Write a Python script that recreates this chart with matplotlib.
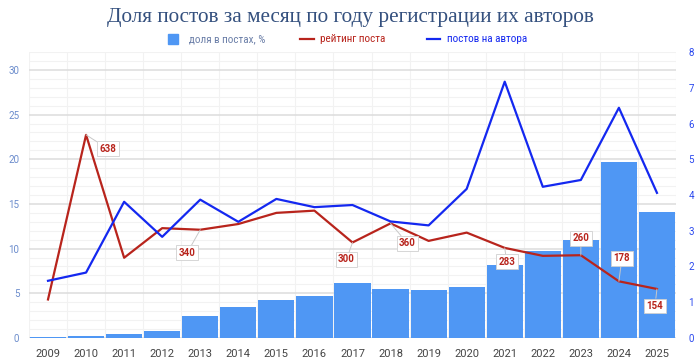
import numpy as np
import matplotlib
matplotlib.use('Agg')
import matplotlib.pyplot as plt
from matplotlib import font_manager
from matplotlib.patches import Rectangle
from matplotlib.lines import Line2D

# data
years = ['2009', '2010', '2011', '2012', '2013', '2014', '2015', '2016', '2017',
         '2018', '2019', '2020', '2021', '2022', '2023', '2024', '2025']
share = [0.15, 0.2, 0.4, 0.8, 2.5, 3.5, 4.2, 4.7, 6.2, 5.45, 5.35, 5.7, 8.2, 9.7, 11.0, 19.7, 14.05]
rating = [121, 638, 252, 345, 340, 358, 393, 400, 300, 360, 305, 331, 283, 258, 260, 178, 154]
posts_per_author = [1.60, 1.83, 3.81, 2.83, 3.87, 3.25, 3.89, 3.66, 3.72, 3.26, 3.15, 4.17,
                    7.17, 4.23, 4.42, 6.44, 4.06]
# which rating points get a callout, and where the box sits (pixel offset)
label_years = ['2010', '2013', '2017', '2018', '2021', '2023', '2024', '2025']
label_offsets = [(22, -14), (-13, -23), (-6, -17), (17, -20), (2, -14), (0, 17), (3, 23), (-2, -17)]
legend_labels = ['доля в постах, %', 'рейтинг поста', 'постов на автора']

BAR = '#4f97f4'
RED = '#b8241c'
BLUE = '#1428f0'
rating_scale = 28.07  # rating is drawn against the left axis

plt.rcParams['font.family'] = ['Roboto', 'DejaVu Sans']

# narrow font for the legend if there is one
narrow = 'Roboto'
for cand in ['Liberation Sans Narrow', 'Roboto Condensed', 'DejaVu Sans Condensed']:
    try:
        font_manager.findfont(cand, fallback_to_default=False)
        narrow = cand
        break
    except Exception:
        pass

fig = plt.figure(figsize=(7, 3.63), dpi=100)
ax = fig.add_axes([0.0414, 0.0689, 0.9243, 0.7878])
x = np.arange(len(years))

ax.bar(x, share, width=0.95, color=BAR, linewidth=0, zorder=2)
r_scaled = np.array(rating) / rating_scale
ax.plot(x, r_scaled, color=RED, lw=1.6, zorder=4)

ax.set_xlim(-0.5, len(years) - 0.5)
ax.set_ylim(0, 32)
ax.set_yticks(np.arange(0, 31, 5))
ax.set_yticks(np.arange(0, 33, 1), minor=True)
ax.grid(axis='y', which='major', color='#dcdcdc', lw=1.1, zorder=0)
ax.grid(axis='y', which='minor', color='#f2f2f2', lw=0.8, zorder=0)
ax.set_xticks(x)
ax.set_xticklabels(years)
ax.set_xticks(np.arange(-0.5, len(years), 1), minor=True)
ax.grid(axis='x', which='minor', color='#f2f2f2', lw=0.8, zorder=0)
ax.tick_params(axis='x', which='both', length=0, labelsize=8, colors='#444444', pad=8)
ax.tick_params(axis='y', which='both', length=0, labelsize=7, labelcolor='#6b8ccc', pad=7)
for s in ax.spines.values():
    s.set_visible(False)
ax.set_axisbelow(True)

ax2 = ax.twinx()
ax2.plot(x, posts_per_author, color=BLUE, lw=1.6, zorder=5)
ax2.set_ylim(0, 8)
ax2.set_yticks(np.arange(0, 9, 1))
ax2.tick_params(axis='y', length=0, labelsize=7, labelcolor='#2a48ee', pad=9)
for s in ax2.spines.values():
    s.set_visible(False)

# callouts on the rating line
for yr, off in zip(label_years, label_offsets):
    i = years.index(yr)
    ax2.annotate(str(rating[i]), xy=(x[i], r_scaled[i] * 8 / 32), xycoords='data',
                 xytext=off, textcoords='offset pixels', ha='center', va='center',
                 fontsize=7, fontweight='bold', color=RED, zorder=10,
                 bbox=dict(boxstyle='square,pad=0.25', fc='white', ec='#d0d0d0', lw=0.6),
                 arrowprops=dict(arrowstyle='-', color='#c8c8c8', lw=0.7,
                                 shrinkA=0, shrinkB=0))

fig.text(0.5, 0.953, 'Доля постов за месяц по году регистрации их авторов',
         ha='center', va='center', fontsize=15.3, color='#34507e',
         family=['Liberation Serif', 'DejaVu Serif'])

# legend drawn by hand so the spacing matches
ly = 1 - 39 / 363
fig.patches.append(Rectangle((168 / 700, ly - 5 / 363), 10 / 700, 10 / 363,
                             transform=fig.transFigure, color=BAR))
fig.lines.append(Line2D([300 / 700, 314 / 700], [ly, ly], transform=fig.transFigure,
                        color=RED, lw=1.6))
fig.lines.append(Line2D([427 / 700, 440 / 700], [ly, ly], transform=fig.transFigure,
                        color=BLUE, lw=1.6))
for xs, lab, c in zip([189, 320, 447], legend_labels, ['#6b7fa8', RED, BLUE]):
    fig.text(xs / 700, ly, lab, ha='left', va='center', fontsize=8, color=c, family=narrow)

fig.savefig('out.png', dpi=100)
